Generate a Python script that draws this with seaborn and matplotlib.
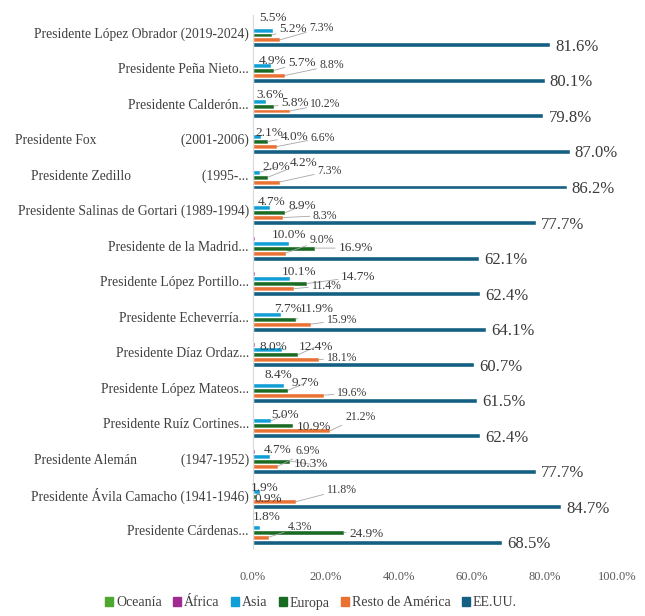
import matplotlib
matplotlib.use("Agg")
import matplotlib.pyplot as plt
import matplotlib.patches as mpatches
import seaborn as sns
import pandas as pd

# ---------------- data ----------------
categories = [
    "Presidente López Obrador (2019-2024)",
    "Presidente Peña Nieto...",
    "Presidente Calderón...",
    "Presidente Fox                         (2001-2006)",
    "Presidente Zedillo                     (1995-...",
    "Presidente Salinas de Gortari (1989-1994)",
    "Presidente de la Madrid...",
    "Presidente López Portillo...",
    "Presidente Echeverría...",
    "Presidente Díaz Ordaz...",
    "Presidente López Mateos...",
    "Presidente Ruíz Cortines...",
    "Presidente Alemán             (1947-1952)",
    "Presidente Ávila Camacho (1941-1946)",
    "Presidente Cárdenas...",
]
series = ["Oceanía", "África", "Asia", "Europa", "Resto de América", "EE.UU."]

oceania = [0.1, 0.1, 0.1, 0.1, 0.1, 0.2, 0.1, 0.1, 0.2, 0.2, 0.3, 0.3, 0.1, 0.1, 0.4]
africa  = [0.1, 0.1, 0.1, 0.1, 0.1, 0.1, 0.5, 0.5, 0.1, 0.5, 0.4, 0.1, 0.6, 0.6, 0.1]
asia    = [5.5, 4.9, 3.6, 2.1, 2.0, 4.7, 10.0, 10.1, 7.7, 8.0, 8.4, 5.0, 4.7, 1.9, 1.8]
europa  = [5.2, 5.7, 5.8, 4.0, 4.2, 8.9, 16.9, 14.7, 11.9, 12.4, 9.7, 10.9, 10.3, 0.9, 24.9]
resto   = [7.3, 8.8, 10.2, 6.6, 7.3, 8.3, 9.0, 11.4, 15.9, 18.1, 19.6, 21.2, 6.9, 11.8, 4.3]
eeuu    = [81.6, 80.1, 79.8, 87.0, 86.2, 77.7, 62.1, 62.4, 64.1, 60.7, 61.5, 62.4, 77.7, 84.7, 68.5]

xticks = [0, 20, 40, 60, 80, 100]

colors = ["#4EA72E", "#A02B93", "#0F9ED5", "#196B24", "#E97132", "#156082"]

# label offsets (pixels, y downwards) relative to bar end -- layout only
asia_off = [(0, -12), (2, -4.5), (4, -6), (9, -4), (16, -5), (2, -6), (0, -8), (9, -7),
            (7, -5), (-9, -3), (-5, -10), (14, -6), (8, -6), (5, -4), (7, -10)]
eur_off = [(21, -6), (28, -8), (21, -3), (27, -5), (35, -14), (17, -7), (41, 0), (52, -7),
           (20, -10), (18, -8), (17, -7), (21, 1), (20, 3), (12, 2), (23, 2)]
resto_off = [(42, -12), (47, -10), (35, -7), (46, -9), (50, -11), (42, -2), (36, -13), (32, -3),
             (31, -4), (23, -2), (28, -2), (30, -14), (30, -15), (46, -12), (31, -10)]

# ---------------- frame ----------------
values = {"Oceanía": oceania, "África": africa, "Asia": asia, "Europa": europa,
          "Resto de América": resto, "EE.UU.": eeuu}
rows = []
for s in series:
    for c, v in zip(categories, values[s]):
        rows.append({"Presidente": c, "Región": s, "Valor": v})
df = pd.DataFrame(rows)

sns.set_theme(style="white")
plt.rcParams["font.family"] = ["Liberation Serif", "DejaVu Serif"]

fig = plt.figure(figsize=(6.45, 6.16), dpi=100)
ax = fig.add_axes([253 / 645, 1 - 547.5 / 616, 364 / 645, (547.5 - 14.75) / 616])

sns.barplot(data=df, y="Presidente", x="Valor", hue="Región", hue_order=series,
            order=categories, palette=colors, orient="h", width=0.84,
            errorbar=None, ax=ax, legend=False, saturation=1)

ax.set_xlim(0, 100)
ax.set_ylim(len(categories) - 0.5, -0.5)
ax.set_xlabel("")
ax.set_ylabel("")
ax.set_xticks(xticks)
ax.set_xticklabels([f"{t:.1f}%" for t in xticks], color="#595959", fontsize=9)
ax.tick_params(axis="x", length=0, pad=17)
ax.tick_params(axis="y", length=0, pad=3)
for lab in ax.get_yticklabels():
    lab.set_fontsize(9.8)
    lab.set_color("#404040")
for sp in ["top", "right", "bottom"]:
    ax.spines[sp].set_visible(False)
ax.spines["left"].set_color("#d9d9d9")
ax.spines["left"].set_linewidth(0.8)
ax.grid(False)

# ---------------- data labels ----------------
label_color = "#3a3a3a"
lead = dict(arrowstyle="-", color="#a6a6a6", lw=0.6, shrinkA=0, shrinkB=0)

def put_labels(container, offsets, fs):
    for bar, (dx, dy) in zip(container, offsets):
        w = bar.get_width()
        yc = bar.get_y() + bar.get_height() / 2
        far = (dx * dx + dy * dy) ** 0.5 > 14
        ax.annotate(f"{w:.1f}%", xy=(w, yc), xytext=(dx, -dy), textcoords="offset pixels",
                    ha="center", va="center", fontsize=fs, color=label_color,
                    arrowprops=lead if far else None, annotation_clip=False)

put_labels(ax.containers[2], asia_off, 9.5)
put_labels(ax.containers[3], eur_off, 9.5)
put_labels(ax.containers[4], resto_off, 8.5)
for bar in ax.containers[5]:
    w = bar.get_width()
    yc = bar.get_y() + bar.get_height() / 2
    ax.annotate(f"{w:.1f}%", xy=(w, yc), xytext=(5, -2), textcoords="offset pixels",
                ha="left", va="center", fontsize=12, color=label_color,
                annotation_clip=False)

# ---------------- legend ----------------
handles = [mpatches.Patch(color=c, label=s) for c, s in zip(colors, series)]
fig.legend(handles=handles, loc="center", bbox_to_anchor=(311 / 645, 1 - 603 / 616),
           ncol=6, frameon=False, fontsize=10, handlelength=0.6, handleheight=0.6,
           handletextpad=0.2, columnspacing=0.8, labelcolor="#404040")

fig.savefig("out.png", dpi=100)
